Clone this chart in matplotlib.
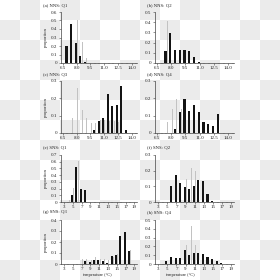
import matplotlib
matplotlib.use('Agg')
import matplotlib.pyplot as plt
import numpy as np
from matplotlib.colors import ListedColormap
from matplotlib.ticker import FixedLocator, FuncFormatter, MultipleLocator

plt.rcParams['font.family'] = ['Liberation Serif', 'DejaVu Serif']

# ---------------- data ----------------
# (a) NNS: Q1
a_temp = [7.0, 7.5, 8.0, 8.5, 9.0]
a_black = [0.20, 0.455, 0.24, 0.08, 0.01]
a_grey = [0.0, 0.0, 0.51, 0.25, 0.055]
# (b) NNS: Q2
b_temp = [7.5, 8.0, 8.5, 9.0, 9.5, 10.0, 10.5, 11.0]
b_black = [0.113, 0.297, 0.13, 0.13, 0.127, 0.12, 0.063, 0.013]
b_grey = [0.41, 0.0, 0.0, 0.0, 0.0, 0.0, 0.0, 0.0]
# (c) NNS: Q3
c_temp = [7.5, 8.0, 8.5, 9.0, 9.5, 10.0, 10.5, 11.0, 11.5, 12.0, 12.5, 13.0, 13.5]
c_black = [0.0, 0.0, 0.0, 0.0, 0.0, 0.02, 0.067, 0.085, 0.222, 0.152, 0.161, 0.266, 0.02]
c_grey = [0.085, 0.255, 0.13, 0.085, 0.06, 0.06, 0.075, 0.075, 0.07, 0.07, 0.065, 0.0, 0.0]
# (d) NNS: Q4
d_temp = [7.5, 8.0, 8.5, 9.0, 9.5, 10.0, 10.5, 11.0, 11.5, 12.0, 12.5, 13.0]
d_black = [0.0, 0.0, 0.023, 0.122, 0.194, 0.126, 0.159, 0.12, 0.062, 0.054, 0.042, 0.106]
d_grey = [0.062, 0.14, 0.194, 0.135, 0.0, 0.0, 0.0, 0.0, 0.0, 0.0, 0.0, 0.0]
# (e) SNS: Q1
e_temp = [3, 4, 5, 6, 7, 8, 9]
e_black = [0.0, 0.0, 0.107, 0.52, 0.19, 0.18, 0.005]
e_grey = [0.005, 0.03, 0.214, 0.61, 0.0, 0.0, 0.0]
# (f) SNS: Q2
f_temp = [6, 7, 8, 9, 10, 11, 12, 13, 14, 15]
f_black = [0.1, 0.175, 0.12, 0.095, 0.085, 0.1, 0.14, 0.135, 0.05, 0.005]
f_grey = [0.0, 0.0, 0.0, 0.15, 0.214, 0.2, 0.0, 0.0, 0.0, 0.0]
# (g) SNS: Q3
g_temp = [7, 8, 9, 10, 11, 12, 13, 14, 15, 16, 17, 18]
g_black = [0.0, 0.03, 0.021, 0.036, 0.039, 0.024, 0.009, 0.075, 0.084, 0.259, 0.295, 0.114]
g_grey = [0.045, 0.05, 0.04, 0.06, 0.05, 0.045, 0.04, 0.06, 0.09, 0.0, 0.0, 0.13]
# (h) SNS: Q4
h_temp = [5, 6, 7, 8, 9, 10, 11, 12, 13, 14, 15, 16, 17]
h_black = [0.03, 0.085, 0.065, 0.07, 0.155, 0.1, 0.125, 0.12, 0.115, 0.08, 0.06, 0.03, 0.01]
h_grey = [0.0, 0.0, 0.0, 0.0, 0.215, 0.43, 0.215, 0.0, 0.0, 0.0, 0.0, 0.0, 0.0]

panel_labels = ['(a) NNS: Q1', '(b) NNS: Q2', '(c) NNS: Q3', '(d) NNS: Q4',
                '(e) SNS: Q1', '(f) SNS: Q2', '(g) SNS: Q3', '(h) SNS: Q4']
nns_xticks = [6.5, 8.0, 9.5, 11.0, 12.5, 14.0]
sns_xticks = [3, 5, 7, 9, 11, 13, 15, 17, 19]
ymax = [0.6, 0.5, 0.3, 0.3, 0.7, 0.3, 0.4, 0.5]
y_label = 'proportion'
x_label = 'temperature (°C)'

# ---------------- layout ----------------
W = H = 280
fig = plt.figure(figsize=(2.8, 2.8), dpi=100)
fig.patch.set_facecolor('white')

# checkerboard backdrop (as in the reference)
bg = fig.add_axes([0, 0, 1, 1], zorder=-10)
n = 14
checker = np.add.outer(np.arange(n), np.arange(n)) % 2
bg.imshow(checker, cmap=ListedColormap(['white', '#ebebeb']),
          extent=(0, W, H, 0), interpolation='nearest', aspect='auto')
bg.set_xlim(0, W)
bg.set_ylim(H, 0)
bg.axis('off')


def px_box(x0, x1, yt, yb):
    return [x0 / W, 1 - yb / H, (x1 - x0) / W, (yb - yt) / H]


cols = [(61, 137), (155, 234)]
rows = [(12, 63), (80.5, 133), (155, 202), (220, 264)]
label_y = [5, 74.5, 147, 212]
label_x = [43, 147]

data = [(a_temp, a_black, a_grey), (b_temp, b_black, b_grey),
        (c_temp, c_black, c_grey), (d_temp, d_black, d_grey),
        (e_temp, e_black, e_grey), (f_temp, f_black, f_grey),
        (g_temp, g_black, g_grey), (h_temp, h_black, h_grey)]

yfmt = FuncFormatter(lambda v, p: '0' if abs(v) < 1e-9 else f'{v:.1f}')
spine_col = '#444444'

for i, (temp, blk, gry) in enumerate(data):
    r, c = divmod(i, 2)
    ax = fig.add_axes(px_box(cols[c][0], cols[c][1], rows[r][0], rows[r][1]))
    ax.set_facecolor('none')
    nns = r < 2
    w = 0.5 if nns else 1.0
    t = np.array(temp, dtype=float)
    ax.bar(t + 0.2 * w, gry, width=0.22 * w, color='#c2c2c2', linewidth=0, zorder=2)
    ax.bar(t - 0.2 * w, blk, width=0.45 * w, color='#141414', linewidth=0, zorder=3)
    if nns:
        ax.set_xlim(6.3, 14.6)
        ax.xaxis.set_major_locator(FixedLocator(nns_xticks))
        ax.set_xticklabels([f'{v:.1f}' for v in nns_xticks])
        ax.xaxis.set_minor_locator(MultipleLocator(0.5))
    else:
        ax.set_xlim(2.3, 19.6)
        ax.xaxis.set_major_locator(FixedLocator(sns_xticks))
        ax.set_xticklabels([str(v) for v in sns_xticks])
        ax.xaxis.set_minor_locator(MultipleLocator(1))
    ax.set_ylim(0, ymax[i])
    ax.yaxis.set_major_locator(MultipleLocator(0.1))
    ax.yaxis.set_major_formatter(yfmt)
    for s in ['top', 'right']:
        ax.spines[s].set_visible(False)
    for s in ['left', 'bottom']:
        ax.spines[s].set_linewidth(0.5)
        ax.spines[s].set_color(spine_col)
    ax.tick_params(axis='both', which='major', labelsize=3.6, length=1.5,
                   width=0.4, pad=1, color=spine_col, labelcolor='#222222')
    ax.tick_params(axis='x', which='minor', length=0.8, width=0.3, color=spine_col)
    fig.text(label_x[c] / W, 1 - label_y[r] / H, panel_labels[i],
             ha='left', va='center', fontsize=3.4, color='#222222')
    if c == 0:
        yc = (rows[r][0] + rows[r][1]) / 2
        fig.text(46 / W, 1 - yc / H, y_label, rotation=90, ha='center',
                 va='center', fontsize=3.4, color='#222222')
    if r == 3:
        xc = 97 if c == 0 else 180
        fig.text(xc / W, 1 - 275 / H, x_label, ha='center', va='center',
                 fontsize=3.2, color='#222222')

fig.savefig('out.png', dpi=100)
